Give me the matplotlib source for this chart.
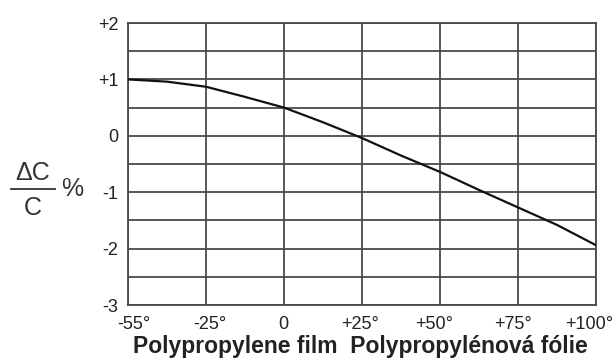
import matplotlib
matplotlib.use("Agg")
import matplotlib.pyplot as plt
from matplotlib.lines import Line2D
from matplotlib.transforms import ScaledTranslation

# Temperature tick labels (equally spaced on the axis)
temp_labels = ["-55°", "-25°", "0", "+25°", "+50°", "+75°", "+100°"]
# Curve samples at half-tick steps along the temperature axis
curve_pos = [0, 0.5, 1, 1.5, 2, 2.5, 3, 3.5, 4, 4.5, 5, 5.5, 6]
curve_dc = [1.0, 0.96, 0.87, 0.69, 0.50, 0.24, -0.04, -0.35, -0.64, -0.96, -1.27, -1.58, -1.94]
y_ticks = [2, 1, 0, -1, -2, -3]
y_tick_labels = ["+2", "+1", "0", "-1", "-2", "-3"]
x_title = "Polypropylene film  Polypropylénová fólie"

plt.rcParams["font.family"] = ["Liberation Sans", "DejaVu Sans"]

fig = plt.figure(figsize=(6.16, 3.6), dpi=100)
ax = fig.add_axes([128 / 616, 1 - 305 / 360, (596 - 128) / 616, (305 - 23) / 360])

grid_col = "#4a4a4a"
ax.set_xlim(0, len(temp_labels) - 1)
ax.set_ylim(-3, 2)

for i in range(len(temp_labels)):
    ax.axvline(i, color=grid_col, lw=1.3, zorder=1)
for k in range(11):
    ax.axhline(-3 + 0.5 * k, color=grid_col, lw=1.3, zorder=1)

ax.plot(curve_pos, curve_dc, color="#111111", lw=1.6, zorder=3, solid_capstyle="round")

for s in ax.spines.values():
    s.set_color(grid_col)
    s.set_linewidth(1.3)

ax.set_xticks(range(len(temp_labels)))
ax.set_xticklabels(temp_labels)
ax.set_yticks(y_ticks)
ax.set_yticklabels(y_tick_labels)
ax.tick_params(length=0, labelsize=13, colors="#222222")
ax.tick_params(axis="x", pad=8)
ax.tick_params(axis="y", pad=7)

# small horizontal nudges so the outer labels stay inside the figure
nudges_px = [6, 4, -1, -2, -6, -5, -7]
for lbl, dx in zip(ax.get_xticklabels(), nudges_px):
    lbl.set_transform(lbl.get_transform() + ScaledTranslation(dx / 100, 0, fig.dpi_scale_trans))

fig.text(133 / 616, 1 - 347 / 360, x_title, ha="left", va="center",
         fontsize=16.5, fontweight="bold", color="#222222")

# ΔC / C % label
fs = 18
fig.text(33 / 616, 1 - 173 / 360, "ΔC", ha="center", va="center", fontsize=fs, color="#333333")
fig.add_artist(Line2D([11 / 616, 55 / 616], [1 - 189 / 360, 1 - 189 / 360],
                      color="#333333", lw=1.3, transform=fig.transFigure))
fig.text(33 / 616, 1 - 208 / 360, "C", ha="center", va="center", fontsize=fs, color="#333333")
fig.text(72 / 616, 1 - 189 / 360, "%", ha="center", va="center", fontsize=fs, color="#333333")

fig.savefig("out.png", dpi=100)
